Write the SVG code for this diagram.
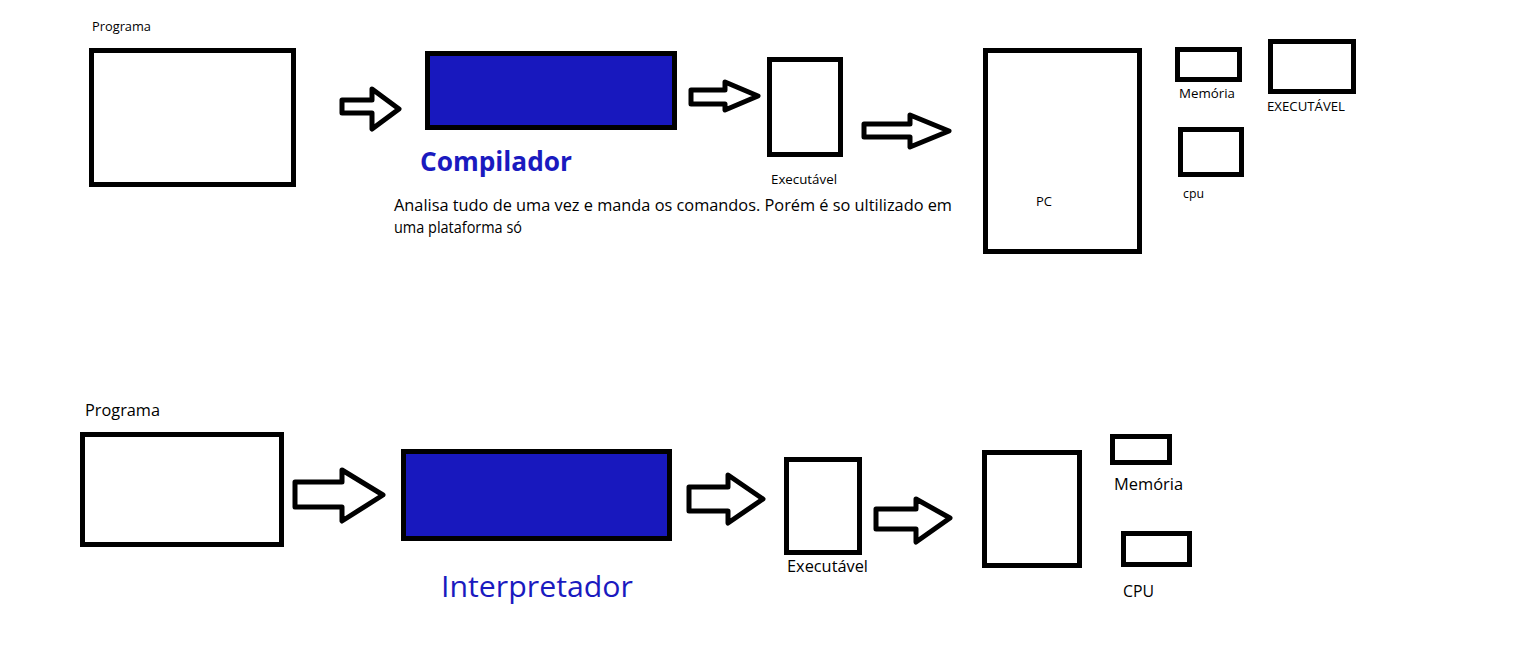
<svg xmlns="http://www.w3.org/2000/svg" width="1527" height="648" viewBox="0 0 1527 648">
<style>
.box{fill:#ffffff;stroke:#000000;stroke-width:5}
.blue{fill:#1818be;stroke:#000000;stroke-width:5}
.arr{fill:#ffffff;stroke:#000000;stroke-width:5;stroke-linejoin:round}
text{font-family:"Open Sans","Noto Sans","Liberation Sans",sans-serif;fill:#000000}
.s{font-size:12px}
.m{font-size:16px}
.t{fill:#1a1abf}
</style>
<rect width="1527" height="648" fill="#ffffff"/>
<g id="connectors">
<polygon class="arr" points="342,100 372,100 372,89 399,109 372,129 372,113 342,113"/>
<polygon class="arr" points="691,90 725,90 725,82 758,96 725,110 725,104 691,104"/>
<polygon class="arr" points="864,124 910,124 910,115 949,131 910,147 910,137 864,137"/>
<polygon class="arr" points="295,482 342,482 342,470 383,495 342,521 342,507 295,507"/>
<polygon class="arr" points="689,487 728,487 728,475 763,499 728,523 728,511 689,511"/>
<polygon class="arr" points="876,509 916,509 916,499 950,518 916,542 916,529 876,529"/>
</g>
<g id="programa1">
<text class="s" x="92" y="31" textLength="59" lengthAdjust="spacingAndGlyphs">Programa</text>
<rect class="box" x="91.5" y="50.5" width="202" height="134"/>
</g>
<g id="compilador">
<rect class="blue" x="427.5" y="53.5" width="247" height="74"/>
<text class="t" x="420" y="171" font-size="26" font-weight="bold" textLength="152" lengthAdjust="spacingAndGlyphs">Compilador</text>
<text class="m" x="394" y="211" textLength="558" lengthAdjust="spacingAndGlyphs">Analisa tudo de uma vez e manda os comandos. Porém é so ultilizado em</text>
<text class="m" x="394" y="233" textLength="128" lengthAdjust="spacingAndGlyphs">uma plataforma só</text>
</g>
<g id="executavel1">
<rect class="box" x="769.5" y="59.5" width="71" height="95"/>
<text class="s" x="771" y="184" textLength="66" lengthAdjust="spacingAndGlyphs">Executável</text>
</g>
<g id="pc">
<rect class="box" x="985.5" y="50.5" width="154" height="201"/>
<text class="s" x="1036" y="206" textLength="16" lengthAdjust="spacingAndGlyphs">PC</text>
</g>
<g id="memoria1">
<rect class="box" x="1177.5" y="49.5" width="62" height="30"/>
<text class="s" x="1179" y="98" font-size="13" textLength="56" lengthAdjust="spacingAndGlyphs">Memória</text>
</g>
<g id="executavel-caps">
<rect class="box" x="1270.5" y="41.5" width="83" height="50"/>
<text class="s" x="1267" y="111" font-size="13" textLength="78" lengthAdjust="spacingAndGlyphs">EXECUTÁVEL</text>
</g>
<g id="cpu1">
<rect class="box" x="1180.5" y="129.5" width="61" height="45"/>
<text class="s" x="1183" y="198" textLength="21" lengthAdjust="spacingAndGlyphs">cpu</text>
</g>
<g id="programa2">
<text class="m" x="85" y="416" textLength="75" lengthAdjust="spacingAndGlyphs">Programa</text>
<rect class="box" x="82.5" y="434.5" width="199" height="110"/>
</g>
<g id="interpretador">
<rect class="blue" x="403.5" y="451.5" width="266" height="87"/>
<text class="t" x="441" y="597" font-size="30" textLength="192" lengthAdjust="spacingAndGlyphs">Interpretador</text>
</g>
<g id="executavel2">
<rect class="box" x="786.5" y="459.5" width="73" height="93"/>
<text class="m" x="787" y="572" textLength="81" lengthAdjust="spacingAndGlyphs">Executável</text>
</g>
<g id="pc2">
<rect class="box" x="984.5" y="452.5" width="95" height="113"/>
</g>
<g id="memoria2">
<rect class="box" x="1112.5" y="436.5" width="57" height="26"/>
<text class="m" x="1114" y="490" textLength="69" lengthAdjust="spacingAndGlyphs">Memória</text>
</g>
<g id="cpu2">
<rect class="box" x="1123.5" y="533.5" width="66" height="31"/>
<text class="m" x="1123" y="597" textLength="31" lengthAdjust="spacingAndGlyphs">CPU</text>
</g>
</svg>
